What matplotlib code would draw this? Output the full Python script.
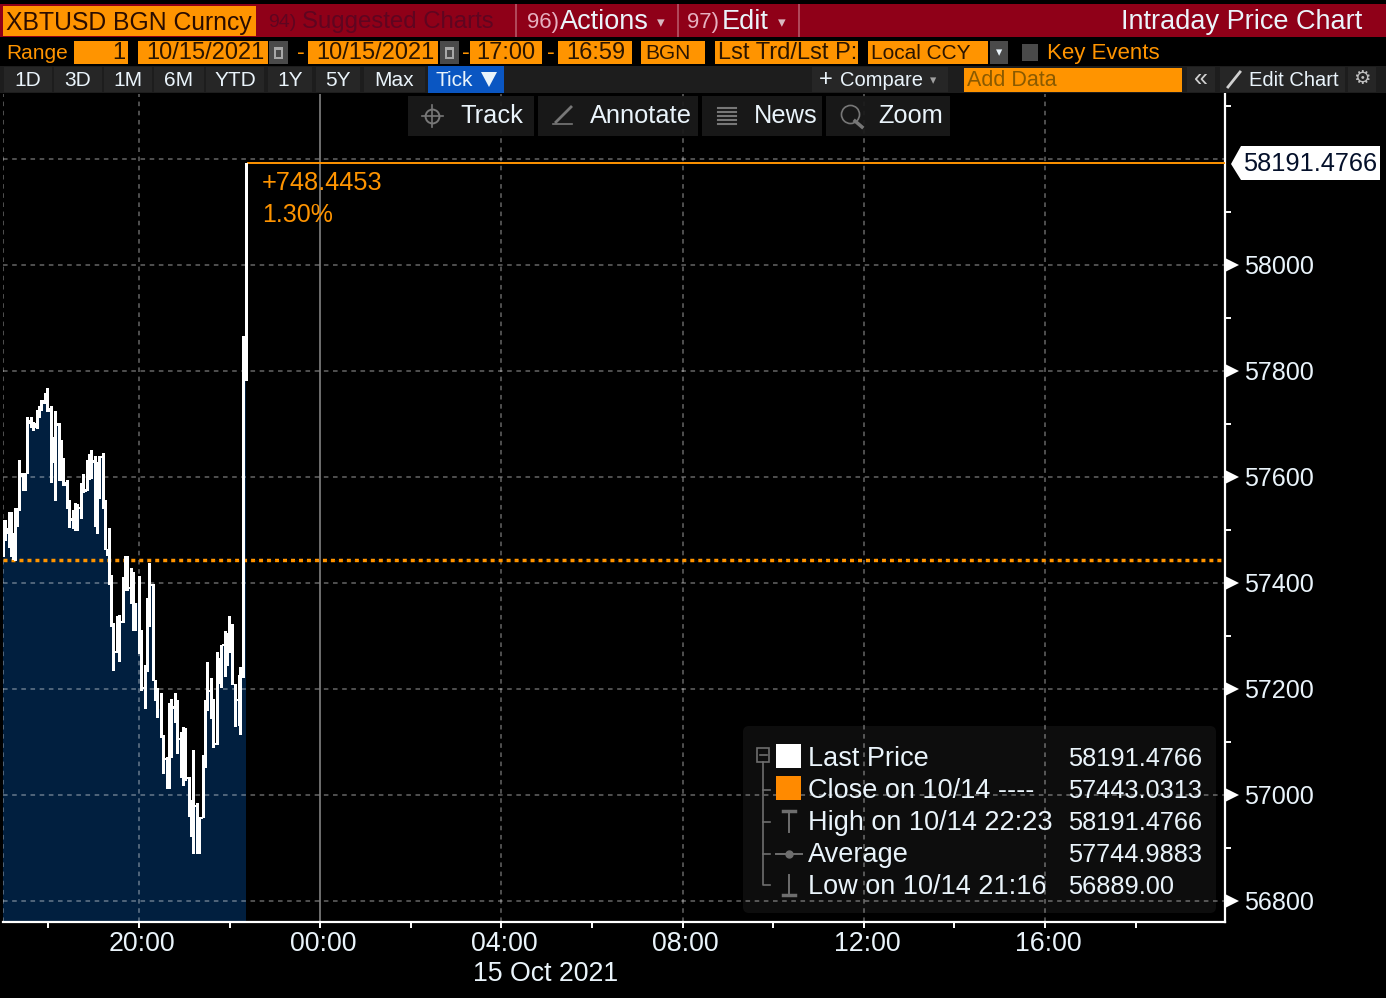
import matplotlib
matplotlib.use("Agg")
import matplotlib.pyplot as plt
from matplotlib.collections import LineCollection
from matplotlib.patches import Rectangle, Polygon, FancyBboxPatch
from matplotlib.transforms import ScaledTranslation, blended_transform_factory

plt.rcParams['font.family'] = ['Liberation Sans', 'DejaVu Sans']

# minutes after 17:00 on 10/14
minutes = [0, 2.6, 5.3, 7.9, 10.6, 13.2, 15.9, 18.5, 21.1, 23.8,
           26.4, 29.1, 31.7, 34.4, 37.0, 39.6, 42.3, 44.9, 47.6, 50.2,
           52.9, 55.5, 58.1, 60.8, 63.4, 66.1, 68.7, 71.4, 74.0, 76.6,
           79.3, 81.9, 84.6, 87.2, 89.9, 92.5, 95.1, 97.8, 100.4, 103.1,
           105.7, 108.4, 111.0, 113.6, 116.3, 118.9, 121.6, 124.2, 126.9, 129.5,
           132.2, 134.8, 137.4, 140.1, 142.7, 145.4, 148.0, 150.7, 153.3, 155.9,
           158.6, 161.2, 163.9, 166.5, 169.2, 171.8, 174.4, 177.1, 179.7, 182.4,
           185.0, 187.7, 190.3, 192.9, 195.6, 198.2, 200.9, 203.5, 206.2, 208.8,
           211.4, 214.1, 216.7, 219.4, 222.0, 224.7, 227.3, 229.9, 232.6, 235.2,
           237.9, 240.5, 243.2, 245.8, 248.4, 251.1, 253.7, 256.4, 259.0, 261.7,
           264.3, 266.9, 269.6, 272.2, 274.9, 277.5, 280.2, 282.8, 285.4, 288.1,
           290.7, 293.4, 296.0, 298.7, 301.3, 303.9, 306.6, 309.2, 311.9, 314.5,
           317.2, 319.8, 322.4]
high = [57519, 57519, 57503, 57533, 57533, 57494, 57541, 57541, 57632, 57607,
        57608, 57608, 57714, 57708, 57714, 57704, 57701, 57726, 57733, 57745,
        57745, 57759, 57767, 57730, 57733, 57676, 57725, 57702, 57702, 57670,
        57635, 57591, 57594, 57557, 57522, 57538, 57551, 57549, 57544, 57588,
        57606, 57577, 57632, 57643, 57650, 57632, 57640, 57629, 57640, 57640,
        57646, 57557, 57465, 57503, 57415, 57325, 57272, 57338, 57340, 57329,
        57412, 57450, 57450, 57393, 57428, 57421, 57362, 57363, 57413, 57311,
        57203, 57245, 57371, 57438, 57399, 57399, 57217, 57201, 57163, 57193,
        57113, 57069, 57071, 57174, 57182, 57167, 57193, 57179, 57107, 57118,
        57129, 57126, 57034, 57034, 56990, 57085, 56981, 56985, 56959, 56959,
        57075, 57179, 57250, 57198, 57220, 57182, 57099, 57269, 57258, 57283,
        57285, 57310, 57305, 57338, 57323, 57323, 57209, 57182, 57226, 57242,
        57866, 57802, 58191.4766]
low = [57450, 57481, 57494, 57468, 57450, 57446, 57443, 57507, 57538, 57601,
       57575, 57575, 57607, 57701, 57695, 57689, 57695, 57692, 57714, 57726,
       57739, 57739, 57725, 57725, 57591, 57629, 57557, 57698, 57594, 57594,
       57585, 57585, 57541, 57505, 57519, 57503, 57500, 57500, 57541, 57523,
       57572, 57574, 57575, 57597, 57599, 57629, 57507, 57494, 57560, 57637,
       57541, 57465, 57453, 57399, 57318, 57236, 57270, 57270, 57252, 57327,
       57327, 57387, 57387, 57390, 57363, 57311, 57311, 57362, 57267, 57199,
       57201, 57165, 57233, 57319, 57396, 57217, 57179, 57147, 57162, 57110,
       57041, 57067, 57014, 57014, 57072, 57165, 57138, 57079, 57105, 57033,
       57018, 57029, 57032, 56960, 56923, 56890, 56979, 56890, 56890, 56957,
       56959, 57053, 57160, 57196, 57145, 57090, 57097, 57097, 57211, 57203,
       57283, 57224, 57245, 57270, 57321, 57209, 57130, 57180, 57132, 57116,
       57222, 57799, 57783]

prev_close = 57443.0313
last_price = 58191.4766
major_minutes = [180, 420, 660, 900, 1140, 1380]
major_labels = ['20:00', '00:00', '04:00', '08:00', '12:00', '16:00']
minor_minutes = [60, 300, 540, 780, 1020, 1260, 1500]
price_ticks = [56800, 57000, 57200, 57400, 57600, 57800, 58000]
minor_price_ticks = [56900, 57100, 57300, 57500, 57700, 57900, 58100, 58300]
grid_prices = price_ticks + [58200]

WHITE = '#ffffff'
ORANGE = '#ff9400'
TEXT = '#eaf4fb'
W, H = 1386, 998

fig = plt.figure(figsize=(W / 100, H / 100), dpi=100, facecolor='black')
ax = fig.add_axes([3 / W, 1 - 921.5 / H, 1221.5 / W, 827.5 / H], facecolor='black')
ax.set_xlim(0, 1617.6)
ax.set_ylim(56761.3, 58322.6)

ax.fill_between(minutes, low, 56761.3, step='mid', color='#011f3f', lw=0, zorder=1)
for m in [0] + major_minutes:
    if m == 420:
        ax.axvline(m, color='#8c8c8c', lw=1.1, zorder=2)
    else:
        ax.axvline(m, color='white', alpha=0.4, lw=1.1, ls=(0, (3, 3)), zorder=2)
for p in grid_prices:
    ax.axhline(p, color='white', alpha=0.4, lw=1.1, ls=(0, (3, 3)), zorder=2)

bars = [[(m, l), (m, h)] for m, l, h in zip(minutes, low, high)]
ax.add_collection(LineCollection(bars, colors=WHITE, linewidths=1.0, capstyle='butt',
                                 antialiaseds=False, zorder=4))
ax.axhline(prev_close, color=ORANGE, lw=2.5, ls=(0, (1.15, 1.15)), zorder=3)
ax.plot([minutes[-1] + 1.5, 1617.6], [last_price, last_price], color=ORANGE, lw=1.4, zorder=3)
ax.text(343, 58155, '+748.4453', color=ORANGE, fontsize=18.3, va='center', zorder=5)
ax.text(343, 58095, '1.30%', color=ORANGE, fontsize=18, va='center', zorder=5)

for side in ['top', 'left']:
    ax.spines[side].set_visible(False)
for side in ['bottom', 'right']:
    ax.spines[side].set_color(WHITE)
    ax.spines[side].set_linewidth(1.6)

ax.yaxis.tick_right()
ax.set_yticks(price_ticks)
ax.set_yticklabels([str(p) for p in price_ticks], color=TEXT, fontsize=18.1)
ax.set_yticks(minor_price_ticks, minor=True)
ax.tick_params(axis='y', which='major', length=0, pad=14)
ax.tick_params(axis='y', which='minor', length=4, width=1.4, color=WHITE)
ax.set_xticks(major_minutes)
ax.set_xticklabels(major_labels, color=TEXT, fontsize=19.3)
ax.set_xticks(minor_minutes, minor=True)
ax.tick_params(axis='x', which='major', length=4.5, width=1.4, color=WHITE, pad=2.5)
ax.tick_params(axis='x', which='minor', length=4.5, width=1.4, color=WHITE)
shift = ScaledTranslation(3 / 100, 0, fig.dpi_scale_trans)
for lab in ax.get_xticklabels():
    lab.set_transform(lab.get_transform() + shift)

# white arrow heads at the major price ticks
right_edge = blended_transform_factory(ax.transAxes, ax.transData)
ax.plot([1.0065] * len(price_ticks), price_ticks, ls='', marker='>', ms=10, color=WHITE, mew=0,
        transform=right_edge, clip_on=False, zorder=6)

# terminal chrome goes on a full figure layer in pixel coordinates
ui = fig.add_axes([0, 0, 1, 1], facecolor='none', zorder=10)
ui.set_xlim(0, W)
ui.set_ylim(H, 0)
ui.axis('off')


def box(x0, y0, x1, y1, color, **kw):
    ui.add_patch(Rectangle((x0, y0), x1 - x0, y1 - y0, facecolor=color, lw=0, **kw))


def label(x, y, s, color=TEXT, size=18, ha='left'):
    ui.text(x, y + 2, s, color=color, fontsize=size, ha=ha, va='center')


# top red bar
box(0, 4, W, 37, '#8f0018')
box(3, 6, 256, 36, ORANGE)
label(6, 21, 'XBTUSD BGN Curncy', '#2a0c00', 17.8)
label(268, 20, '94)', '#5f0520', 14)
label(302, 20, 'Suggested Charts', '#5f0520', 17.3)
for x in [515, 677, 798]:
    box(x, 4, x + 2, 37, '#b0485a')
label(527, 20, '96)', '#e6b0c0', 16)
label(560, 20, 'Actions', TEXT, 19.5)
label(657, 21, '\u25be', '#d8b8c0', 11)
label(687, 20, '97)', '#e6b0c0', 16)
label(722, 20, 'Edit', TEXT, 19.5)
label(778, 21, '\u25be', '#d8b8c0', 11)
label(1362, 20, 'Intraday Price Chart', TEXT, 19.5, ha='right')

# range row
label(6, 51, 'Range', ORANGE, 15)
row2 = [(74, 128), (138, 268), (308, 438), (470, 542), (558, 632), (641, 705), (715, 858), (868, 988)]
for x0, x1 in row2:
    box(x0, 41, x1, 64, ORANGE)
DARK = '#2b1500'
label(125, 51, '1', DARK, 17, ha='right')
label(146, 51, '10/15/2021', DARK, 17)
label(316, 51, '10/15/2021', DARK, 17)
label(476, 51, '17:00', DARK, 17)
label(566, 51, '16:59', DARK, 17)
label(645, 51, 'BGN', DARK, 15)
label(718, 51, 'Lst Trd/Lst P:', DARK, 17)
label(871, 51, 'Local CCY', DARK, 15)
label(297, 51, '-', ORANGE, 17)
label(462, 51, '-', ORANGE, 17)
label(547, 51, '-', ORANGE, 17)
for x0, x1 in [(269, 288), (440, 459)]:
    box(x0, 41, x1, 64, '#4a4a4a')
    box(x0 + 5, 47, x1 - 5, 59, '#a8a8a8')
    box(x0 + 7, 50, x1 - 7, 57, '#4a4a4a')
box(990, 41, 1008, 64, '#4a4a4a')
label(999, 51, '\u25be', TEXT, 9, ha='center')
box(1022, 44, 1038, 61, '#4a4a4a')
label(1047, 51, 'Key Events', ORANGE, 16)

# period row
box(0, 66, W, 93, '#1d1d1d')
periods = [('1D', 4, 52), ('3D', 54, 102), ('1M', 104, 152), ('6M', 154, 204), ('YTD', 206, 264),
           ('1Y', 268, 312), ('5Y', 316, 360), ('Max', 364, 425)]
for s, x0, x1 in periods:
    box(x0, 67, x1, 92, '#262626')
    label((x0 + x1) / 2, 78, s, TEXT, 15, ha='center')
box(428, 66, 504, 93, '#0a56c2')
label(435, 78, 'Tick', TEXT, 15)
ui.add_patch(Polygon([(481, 72), (497, 72), (489, 87)], facecolor=TEXT, lw=0))
box(812, 67, 948, 92, '#262626')
label(819, 78, '+', TEXT, 17)
label(840, 78, 'Compare', TEXT, 14.5)
label(930, 79, '\u25be', '#a0a0a0', 9)
box(964, 68, 1182, 92, ORANGE)
label(967, 78, 'Add Data', '#8a5a00', 15.5)
box(1187, 67, 1215, 92, '#262626')
label(1201, 77, '\u00ab', '#d0d0d0', 18, ha='center')
box(1220, 67, 1345, 92, '#262626')
ui.plot([1228, 1240], [87, 72], color='#d0d0d0', lw=2)
label(1249, 78, 'Edit Chart', TEXT, 14.5)
box(1348, 67, 1376, 92, '#262626')
label(1362, 77, '\u2699', '#c0c0c0', 14, ha='center')

# chart toolbar
tools = [(408, 534, 'Track', 460), (538, 698, 'Annotate', 590), (702, 822, 'News', 754), (826, 950, 'Zoom', 878)]
for x0, x1, s, tx in tools:
    box(x0, 96, x1, 136, '#1a1a1a', alpha=0.93)
    label(tx, 114, s, TEXT, 18.3)
ui.plot([432], [116], marker='o', mfc='none', mec='#777777', ms=10, mew=1.4)
ui.plot([422, 443], [116, 116], color='#777777', lw=1.2)
ui.plot([432, 432], [105, 127], color='#777777', lw=1.2)
ui.plot([556, 571], [122, 107], color='#777777', lw=2)
ui.plot([553, 572], [124, 124], color='#777777', lw=1.2)
for y in [108, 112, 116, 120, 124]:
    ui.plot([718, 736], [y, y], color='#777777', lw=1.5)
ui.plot([850], [114], marker='o', mfc='none', mec='#777777', ms=13, mew=1.2)
ui.plot([855, 862], [121, 127], color='#777777', lw=2.5)

# last price flag
ui.add_patch(Polygon([(1231, 164), (1241, 146), (1380, 146), (1380, 180), (1241, 180)], facecolor=WHITE, lw=0))
label(1243, 162, '58191.4766', '#04102a', 18.3)

# legend panel, grid shows through it
ui.add_patch(FancyBboxPatch((746, 729), 467, 181, boxstyle='round,pad=3,rounding_size=6',
                            facecolor='white', alpha=0.055, lw=0))
rows = [(758, 'Last Price', '58191.4766'), (790, 'Close on 10/14 ---- ', '57443.0313'),
        (822, 'High on 10/14 22:23', '58191.4766'), (854, 'Average', '57744.9883'),
        (886, 'Low on 10/14 21:16', '56889.00')]
for y, name, value in rows:
    label(808, y - 1, name, TEXT, 19.5)
    label(1068, y - 1, value, TEXT, 18.3)
box(776, 744, 801, 768, WHITE)
box(776, 776, 801, 800, '#ff8a00')
GREY = '#6e6e6e'
ui.add_patch(Rectangle((757, 748), 12, 14, facecolor='none', edgecolor=GREY, lw=1.2))
ui.plot([759.5, 766.5], [755, 755], color=GREY, lw=1.2)
ui.plot([763, 763, 770], [762, 885, 885], color=GREY, lw=1.2)
for y in [790, 822, 854]:
    ui.plot([763, 770], [y, y], color=GREY, lw=1.2)
ui.plot([789, 789], [811, 832], color=GREY, lw=1.4)
ui.plot([783, 795], [811, 811], color=GREY, lw=2.5)
ui.plot([776, 802], [854, 854], color=GREY, lw=1.4)
ui.plot([789], [854], marker='o', color=GREY, ms=5)
ui.plot([789, 789], [875, 895], color=GREY, lw=1.4)
ui.plot([783, 795], [895, 895], color=GREY, lw=2.5)

label(546, 972, '15 Oct 2021', TEXT, 19.3, ha='center')

fig.savefig('out.png', dpi=100, facecolor='black')
